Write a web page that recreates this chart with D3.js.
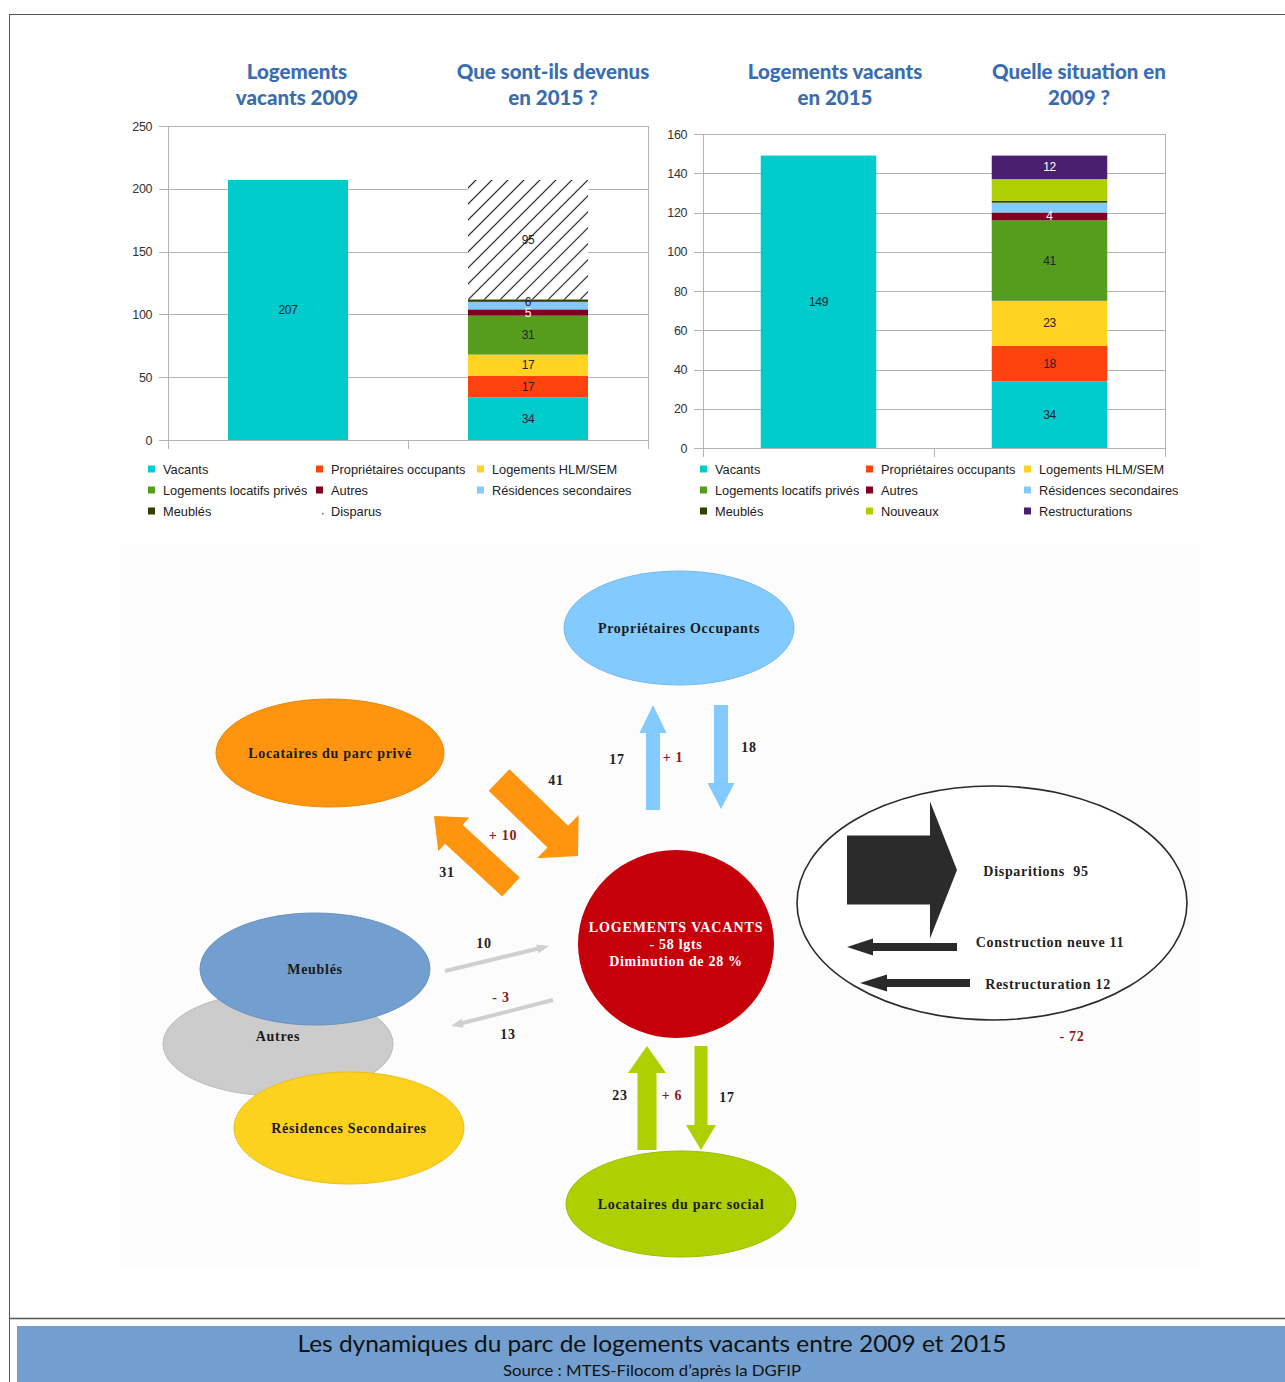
<!DOCTYPE html>
<html>
<head>
<meta charset="utf-8">
<script src="https://cdn.jsdelivr.net/npm/d3@7"></script>
<style>
body { margin: 0; background: #fff; }
</style>
</head>
<body>
<script>
// ---- data ----
var leftTitles = [["Logements", "vacants 2009"], ["Que sont-ils devenus", "en 2015 ?"]];
var rightTitles = [["Logements vacants", "en 2015"], ["Quelle situation en", "2009 ?"]];

var leftSeries = ["Vacants", "Propriétaires occupants", "Logements HLM/SEM", "Logements locatifs privés",
    "Autres", "Résidences secondaires", "Meublés", "Disparus"];
var left2009 = [207, 0, 0, 0, 0, 0, 0, 0];
var left2015 = [34, 17, 17, 31, 5, 6, 2, 95];
var leftTicks = [0, 50, 100, 150, 200, 250];

var rightSeries = ["Vacants", "Propriétaires occupants", "Logements HLM/SEM", "Logements locatifs privés",
    "Autres", "Résidences secondaires", "Meublés", "Nouveaux", "Restructurations"];
var right2015 = [149, 0, 0, 0, 0, 0, 0, 0, 0];
var right2009 = [34, 18, 23, 41, 4, 5, 1, 11, 12];
var rightTicks = [0, 20, 40, 60, 80, 100, 120, 140, 160];

// segments that carry a value label in the picture
var leftShown = ["Vacants", "Propriétaires occupants", "Logements HLM/SEM", "Logements locatifs privés", "Autres", "Résidences secondaires", "Disparus"];
var rightShown = ["Vacants", "Propriétaires occupants", "Logements HLM/SEM", "Logements locatifs privés", "Autres", "Restructurations"];

// flows of the diagram (out = vacant 2009 -> node 2015, in = node 2009 -> vacant 2015)
var flowNodes = ["Propriétaires Occupants", "Locataires du parc privé", "Locataires du parc social", "Meublés / Autres / Résidences Secondaires"];
var flowOut = [17, 31, 17, 13];
var flowIn = [18, 41, 23, 10];
var disparitions = 95, constructionNeuve = 11, restructuration = 12;
var vacants2009 = 207, vacants2015 = 149;

// ---- styles ----
var colors = {
    "Vacants": "#00cccc",
    "Propriétaires occupants": "#ff420e",
    "Logements HLM/SEM": "#ffd320",
    "Logements locatifs privés": "#579d1c",
    "Autres": "#7e0021",
    "Résidences secondaires": "#83caff",
    "Meublés": "#314004",
    "Disparus": "url(#hatch)",
    "Nouveaux": "#aecf00",
    "Restructurations": "#4b1f6f"
};
var whiteLabels = ["Autres", "Restructurations"];
var labelNudge = { "Résidences secondaires": -4 };

var W = 1285, H = 1382;
var svg = d3.select("body").append("svg").attr("width", W).attr("height", H)
    .style("font-family", "'Liberation Sans', Arial, sans-serif");

var defs = svg.append("defs");
var pat = defs.append("pattern").attr("id", "hatch").attr("patternUnits", "userSpaceOnUse")
    .attr("width", 11.3).attr("height", 11.3).attr("patternTransform", "rotate(45)");
pat.append("rect").attr("width", 11.3).attr("height", 11.3).attr("fill", "#fff");
pat.append("line").attr("x1", 0).attr("y1", 0).attr("x2", 0).attr("y2", 11.3)
    .attr("stroke", "#111").attr("stroke-width", 2.2);

// frame
svg.append("line").attr("x1", 9).attr("y1", 14.5).attr("x2", W).attr("y2", 14.5).attr("stroke", "#555");
svg.append("line").attr("x1", 9.5).attr("y1", 14).attr("x2", 9.5).attr("y2", H).attr("stroke", "#555");
svg.append("line").attr("x1", 9).attr("y1", 1318.5).attr("x2", W).attr("y2", 1318.5).attr("stroke", "#555").attr("stroke-width", 1.5);

function drawChart(o) {
    var g = svg.append("g");
    var table = [0, 1].map(function(i) {
        var row = { cat: i };
        o.series.forEach(function(s, j) { row[s] = o.values[i][j]; });
        return row;
    });
    var stacked = d3.stack().keys(o.series)(table);

    var x = d3.scaleBand().domain([0, 1]).range([o.x0, o.x1]).paddingInner(0.5).paddingOuter(0.25);
    var y = d3.scaleLinear().domain([0, o.max]).range([o.y0, o.y1]);

    // grid
    g.selectAll(".grid").data(o.ticks).enter().append("line")
        .attr("x1", o.x0 - 9).attr("x2", o.x1)
        .attr("y1", function(d) { return Math.round(y(d)) + 0.5; })
        .attr("y2", function(d) { return Math.round(y(d)) + 0.5; })
        .attr("stroke", "#b3b3b3");
    [o.x0, (o.x0 + o.x1) / 2, o.x1].forEach(function(xx) {
        g.append("line").attr("x1", Math.round(xx) + 0.5).attr("x2", Math.round(xx) + 0.5)
            .attr("y1", xx === o.x1 || xx === o.x0 ? o.y1 : o.y0).attr("y2", o.y0 + 9)
            .attr("stroke", "#b3b3b3");
    });

    var ax = g.append("g").attr("transform", "translate(" + (o.x0 - 14) + ",0)")
        .call(d3.axisLeft(y).tickValues(o.ticks).tickSize(0).tickPadding(2));
    ax.select(".domain").remove();
    ax.selectAll("text").attr("font-size", 12.5).attr("fill", "#333")
        .attr("font-family", "'Liberation Sans', Arial, sans-serif").attr("letter-spacing", -0.4);

    // bars
    stacked.forEach(function(layer) {
        g.selectAll(null).data(layer.filter(function(d) { return d[1] > d[0]; })).enter().append("rect")
            .attr("x", function(d) { return x(d.data.cat); })
            .attr("width", x.bandwidth())
            .attr("y", function(d) { return y(d[1]); })
            .attr("height", function(d) { return y(d[0]) - y(d[1]); })
            .attr("fill", colors[layer.key]);
    });
    stacked.forEach(function(layer) {
        if (o.shown.indexOf(layer.key) < 0) return;
        g.selectAll(null).data(layer.filter(function(d) { return d[1] > d[0]; })).enter().append("text")
            .attr("x", function(d) { return x(d.data.cat) + x.bandwidth() / 2; })
            .attr("y", function(d) { return y((d[0] + d[1]) / 2) + 4 + (labelNudge[layer.key] || 0); })
            .attr("text-anchor", "middle").attr("font-size", 12).attr("letter-spacing", -0.4)
            .attr("fill", whiteLabels.indexOf(layer.key) >= 0 ? "#fff" : "#223")
            .text(function(d) { return d[1] - d[0]; });
    });

    // titles
    o.titles.forEach(function(lines, i) {
        var t = g.append("text").attr("text-anchor", "middle")
            .attr("font-family", "Lato, 'Open Sans', sans-serif").attr("font-weight", 900)
            .attr("font-size", 20.5).attr("fill", "#3a6db0");
        lines.forEach(function(l, k) {
            t.append("tspan").attr("x", o.titleX[i]).attr("y", 79 + k * 26).text(l);
        });
    });

    // legend
    o.series.forEach(function(s, i) {
        var cx = o.legendCols[i % 3], cy = 469 + Math.floor(i / 3) * 21;
        if (s === "Disparus") {
            // hatched swatch: shows as a single dot in the picture
            g.append("rect").attr("x", cx + 6).attr("y", cy + 2).attr("width", 1.5).attr("height", 1.5).attr("fill", "#666");
        } else {
            g.append("rect").attr("x", cx).attr("y", cy - 3.5).attr("width", 7).attr("height", 7).attr("fill", colors[s]);
        }
        g.append("text").attr("x", cx + 15).attr("y", cy + 4.5).attr("font-size", 12.8)
            .attr("fill", "#222").text(s);
    });
}

drawChart({
    series: leftSeries, values: [left2009, left2015], ticks: leftTicks, max: 250, shown: leftShown,
    x0: 168, x1: 648, y0: 440, y1: 126, titles: leftTitles, titleX: [297, 553],
    legendCols: [148, 316, 477]
});
drawChart({
    series: rightSeries, values: [right2015, right2009], ticks: rightTicks, max: 160, shown: rightShown,
    x0: 703, x1: 1165, y0: 448, y1: 134, titles: rightTitles, titleX: [835, 1079],
    legendCols: [700, 866, 1024]
});

// ---- flow diagram ----
var dg = svg.append("g").attr("font-family", "'Liberation Serif', 'Times New Roman', serif").attr("font-weight", "bold");
dg.append("rect").attr("x", 120).attr("y", 545).attr("width", 1080).attr("height", 723).attr("fill", "#fcfcfc");

function arrow(a) {
    var dx = a.x2 - a.x1, dy = a.y2 - a.y1, L = Math.hypot(dx, dy);
    var ux = dx / L, uy = dy / L, px = -uy, py = ux;
    var bx = a.x2 - ux * a.hl, by = a.y2 - uy * a.hl;
    var pts = [
        [a.x1 + px * a.sw / 2, a.y1 + py * a.sw / 2],
        [bx + px * a.sw / 2, by + py * a.sw / 2],
        [bx + px * a.hw / 2, by + py * a.hw / 2],
        [a.x2, a.y2],
        [bx - px * a.hw / 2, by - py * a.hw / 2],
        [bx - px * a.sw / 2, by - py * a.sw / 2],
        [a.x1 - px * a.sw / 2, a.y1 - py * a.sw / 2]
    ];
    dg.append("path").attr("d", d3.line()(pts) + "Z").attr("fill", a.c);
}

var fontD = 14, spaceD = 0.7;
function ellipse(cx, cy, rx, ry, fill, label, tx, ty) {
    dg.append("ellipse").attr("cx", cx).attr("cy", cy).attr("rx", rx).attr("ry", ry)
        .attr("fill", fill).attr("stroke", d3.color(fill).darker(0.25)).attr("stroke-width", 1);
    if (label) dg.append("text").attr("x", tx || cx).attr("y", (ty || cy) + 5).attr("text-anchor", "middle")
        .attr("font-size", fontD).attr("letter-spacing", spaceD).attr("fill", "#1a1a1a").text(label);
}

ellipse(679, 628, 115, 57, "#83caff", flowNodes[0]);
ellipse(330, 753, 114, 54, "#ff950e", flowNodes[1]);
ellipse(681, 1204, 115, 53, "#aecf00", flowNodes[2]);
var others = flowNodes[3].split(" / ");
ellipse(278, 1044, 115, 52, "#cccccc", others[1], 278, 1036);
ellipse(315, 969, 115, 56, "#729fcf", others[0]);
ellipse(349, 1128, 115, 56, "#fcd21f", others[2]);

// big black ellipse
dg.append("ellipse").attr("cx", 992).attr("cy", 903).attr("rx", 195).attr("ry", 117)
    .attr("fill", "#fff").attr("stroke", "#2a2a2a").attr("stroke-width", 1.6);

// center
dg.append("ellipse").attr("cx", 676).attr("cy", 944).attr("rx", 98).attr("ry", 94).attr("fill", "#c5000b");
var diff = vacants2015 - vacants2009;
var centerLines = ["LOGEMENTS VACANTS", "- " + Math.abs(diff) + " lgts",
    "Diminution de " + Math.round(-diff / vacants2009 * 100) + " %"];
centerLines.forEach(function(l, i) {
    dg.append("text").attr("x", 676).attr("y", 932 + i * 17).attr("text-anchor", "middle")
        .attr("font-size", fontD).attr("letter-spacing", i === 0 ? 0.9 : spaceD).attr("fill", "#fff").text(l);
});

var arrows = [
    { x1: 653, y1: 810, x2: 653, y2: 705, sw: 14, hw: 27, hl: 28, c: "#83caff" },
    { x1: 721, y1: 705, x2: 721, y2: 809, sw: 14, hw: 27, hl: 26, c: "#83caff" },
    { x1: 499, y1: 780, x2: 578, y2: 856, sw: 30, hw: 60, hl: 28, c: "#ff950e" },
    { x1: 511, y1: 887, x2: 434, y2: 816, sw: 26, hw: 46, hl: 27, c: "#ff950e" },
    { x1: 445, y1: 971, x2: 549, y2: 946, sw: 4, hw: 9, hl: 12, c: "#cfcfcf" },
    { x1: 553, y1: 1000, x2: 451, y2: 1026, sw: 4, hw: 9, hl: 12, c: "#cfcfcf" },
    { x1: 647, y1: 1150, x2: 647, y2: 1046, sw: 19, hw: 38, hl: 27, c: "#aecf00" },
    { x1: 701, y1: 1046, x2: 701, y2: 1150, sw: 13, hw: 30, hl: 25, c: "#aecf00" },
    { x1: 847, y1: 870, x2: 957, y2: 870, sw: 69, hw: 137, hl: 27, c: "#2b2b2b" },
    { x1: 957, y1: 947, x2: 847, y2: 947, sw: 8, hw: 17, hl: 26, c: "#2b2b2b" },
    { x1: 970, y1: 983, x2: 860, y2: 983, sw: 8, hw: 17, hl: 27, c: "#2b2b2b" }
];
arrows.forEach(arrow);

function sign(v) { return (v >= 0 ? "+ " : "- ") + Math.abs(v); }
var net = flowIn.map(function(v, i) { return v - flowOut[i]; });
var outside = constructionNeuve + restructuration - disparitions;

var numLabels = [
    { x: 617, y: 759, t: flowOut[0] }, { x: 673, y: 757, t: sign(net[0]), red: true }, { x: 749, y: 747, t: flowIn[0] },
    { x: 556, y: 780, t: flowIn[1] }, { x: 503, y: 835, t: sign(net[1]), red: true }, { x: 447, y: 872, t: flowOut[1] },
    { x: 620, y: 1095, t: flowIn[2] }, { x: 672, y: 1095, t: sign(net[2]), red: true }, { x: 727, y: 1097, t: flowOut[2] },
    { x: 484, y: 943, t: flowIn[3] }, { x: 501, y: 997, t: sign(net[3]), red: true }, { x: 508, y: 1034, t: flowOut[3] },
    { x: 1036, y: 871, t: "Disparitions  " + disparitions },
    { x: 1050, y: 942, t: "Construction neuve " + constructionNeuve },
    { x: 1048, y: 984, t: "Restructuration " + restructuration },
    { x: 1072, y: 1036, t: sign(outside), red: true }
];
numLabels.forEach(function(d) {
    dg.append("text").attr("x", d.x).attr("y", d.y + 4.5).attr("text-anchor", "middle")
        .attr("font-size", fontD).attr("letter-spacing", spaceD).attr("xml:space", "preserve")
        .attr("fill", d.red ? "#8b1a1a" : "#222").text(d.t);
});

// ---- footer ----
svg.append("rect").attr("x", 17).attr("y", 1326).attr("width", W - 17).attr("height", H - 1326).attr("fill", "#729fcf");
svg.append("text").attr("x", 652).attr("y", 1352).attr("text-anchor", "middle")
    .attr("font-family", "Lato, 'Open Sans', sans-serif").attr("font-size", 23).attr("fill", "#111")
    .attr("textLength", 709).attr("lengthAdjust", "spacingAndGlyphs")
    .text("Les dynamiques du parc de logements vacants entre 2009 et 2015");
svg.append("text").attr("x", 652).attr("y", 1376).attr("text-anchor", "middle")
    .attr("font-family", "Lato, 'Open Sans', sans-serif").attr("font-size", 15).attr("fill", "#111")
    .attr("textLength", 298).attr("lengthAdjust", "spacingAndGlyphs")
    .text("Source : MTES-Filocom d’après la DGFIP");
</script>
</body>
</html>
